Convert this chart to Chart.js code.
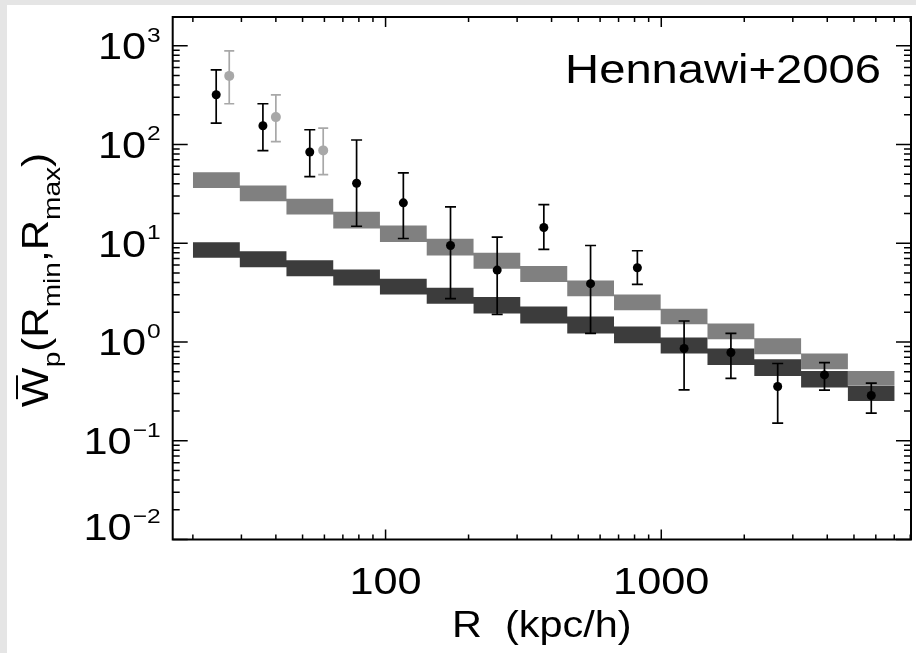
<!DOCTYPE html>
<html>
<head>
<meta charset="utf-8">
<script src="https://cdn.jsdelivr.net/npm/chart.js@4"></script>
<style>
html, body { margin: 0; padding: 0; background: #fff; }
#wrap { width: 916px; height: 653px; position: relative; }
</style>
</head>
<body>
<div id="wrap"><canvas id="chart"></canvas></div>
<script>
// radial bins (kpc/h), 15 bins -> 16 edges
const binEdges = [20, 29.6, 43.7, 64.6, 95.4, 141, 208.5, 308, 456, 674, 995, 1471, 2175, 3215, 4752, 7024]
// light grey model band
const lightHi = [52.2, 38.3, 28.1, 20.8, 15.1, 11.1, 8.0, 5.86, 4.2, 3.03, 2.17, 1.54, 1.09, 0.763, 0.509]
const lightLo = [36.3, 26.6, 19.5, 14.1, 10.3, 7.51, 5.51, 4.04, 2.91, 2.10, 1.51, 1.065, 0.751, 0.53, 0.36]
// dark grey model band
const darkHi = [10.2, 8.3, 6.73, 5.42, 4.37, 3.54, 2.85, 2.28, 1.81, 1.43, 1.11, 0.858, 0.669, 0.509, 0.359]
const darkLo = [7.12, 5.72, 4.64, 3.74, 3.03, 2.44, 1.94, 1.54, 1.22, 0.97, 0.763, 0.586, 0.453, 0.346, 0.253]

// Hennawi+2006 measurements
const rBlack = [24.3, 35.9, 53.1, 78.5, 116, 172, 254, 375, 554, 819, 1210, 1789, 2644, 3908, 5777]
const wBlack = [318, 154.5, 83.8, 40.4, 25.6, 9.48, 5.34, 14.4, 3.89, 5.64, 0.858, 0.782, 0.354, 0.464, 0.287]
const wBlackHi = [568, 258, 140.8, 110.8, 51.4, 23.3, 11.5, 24.6, 9.48, 8.38, 1.63, 1.22, 0.605, 0.619, 0.383]
const wBlackLo = [164.5, 86.4, 47.2, 14.85, 11.16, 2.74, 1.905, 8.64, 1.22, 3.83, 0.327, 0.427, 0.151, 0.325, 0.19]
const rGrey = [27.1, 40.0, 59.4]
const wGrey = [494, 189, 87]
const wGreyHi = [884, 318, 146.5]
const wGreyLo = [258, 106.5, 49.4]

const xTickLabels = [100, 1000]
const yTickExps = [-2, -1, 0, 1, 2, 3]

const FONT = '"Liberation Sans", Arial, Helvetica, sans-serif'
const SX = 1.17 // the original glyphs run a bit wider than Liberation Sans

// stepped band edge: one point per bin edge, last bin value repeated at the end
const step = vals => binEdges.map((x, i) => ({ x: x, y: vals[Math.min(i, vals.length - 1)] }))
const pts = (xs, ys) => xs.map((x, i) => ({ x: x, y: ys[i] }))

function txt(ctx, s, x, y, size, align, sx) {
	sx = sx || SX
	ctx.save()
	ctx.font = size + 'px ' + FONT
	const w = ctx.measureText(s).width * sx
	const x0 = align === 'right' ? x - w : align === 'center' ? x - w / 2 : x
	ctx.translate(x0, y)
	ctx.scale(sx, 1)
	ctx.textAlign = 'left'
	ctx.textBaseline = 'alphabetic'
	ctx.fillStyle = '#000'
	ctx.fillText(s, 0, 0)
	ctx.restore()
	return w
}

function logTicks(min, max) {
	const out = []
	for (let e = Math.floor(Math.log10(min)); e <= Math.ceil(Math.log10(max)); e++) {
		for (let m = 1; m <= 9; m++) {
			const v = m * Math.pow(10, e)
			if (v >= min * 0.999 && v <= max * 1.001) out.push({ v: v, major: m === 1 })
		}
	}
	return out
}

const background = {
	id: 'background',
	beforeDraw(chart) {
		const ctx = chart.ctx
		ctx.save()
		ctx.fillStyle = '#fff'
		ctx.fillRect(0, 0, chart.width, chart.height)
		ctx.fillStyle = '#e5e5e5'
		ctx.fillRect(0, 0, chart.width, 5)
		ctx.fillRect(0, 0, 7, chart.height)
		ctx.restore()
	}
}

const errorBars = {
	id: 'errorBars',
	afterDatasetsDraw(chart) {
		const ctx = chart.ctx
		const xs = chart.scales.x, ys = chart.scales.y
		const draw = (rs, lo, hi, color, cap) => {
			ctx.strokeStyle = color
			ctx.lineWidth = 1.7
			rs.forEach((r, i) => {
				const px = xs.getPixelForValue(r)
				const y1 = ys.getPixelForValue(hi[i]), y2 = ys.getPixelForValue(lo[i])
				ctx.beginPath()
				ctx.moveTo(px, y1); ctx.lineTo(px, y2)
				ctx.moveTo(px - cap, y1); ctx.lineTo(px + cap, y1)
				ctx.moveTo(px - cap, y2); ctx.lineTo(px + cap, y2)
				ctx.stroke()
			})
		}
		ctx.save()
		draw(rGrey, wGreyLo, wGreyHi, '#a8a8a8', 5)
		draw(rBlack, wBlackLo, wBlackHi, '#000', 5.5)
		ctx.restore()
	}
}

const frame = {
	id: 'frame',
	afterDraw(chart) {
		const ctx = chart.ctx
		const a = chart.chartArea
		const xs = chart.scales.x, ys = chart.scales.y
		ctx.save()
		ctx.strokeStyle = '#000'
		ctx.lineWidth = 1.5
		ctx.beginPath()
		logTicks(xs.min, xs.max).forEach(t => {
			const px = xs.getPixelForValue(t.v)
			const len = t.major ? 10 : 5
			ctx.moveTo(px, a.bottom); ctx.lineTo(px, a.bottom - len)
			ctx.moveTo(px, a.top); ctx.lineTo(px, a.top + len)
		})
		logTicks(ys.min, ys.max).forEach(t => {
			const py = ys.getPixelForValue(t.v)
			const len = t.major ? 15 : 7
			ctx.moveTo(a.left, py); ctx.lineTo(a.left + len, py)
			ctx.moveTo(a.right, py); ctx.lineTo(a.right - len, py)
		})
		ctx.stroke()
		ctx.lineWidth = 2
		ctx.strokeRect(a.left, a.top, a.right - a.left, a.bottom - a.top)

		// x tick labels
		xTickLabels.forEach(v => txt(ctx, String(v), xs.getPixelForValue(v), a.bottom + 54, 37, 'center'))
		// y tick labels 10^n
		yTickExps.forEach(e => {
			const yc = Math.min(ys.getPixelForValue(Math.pow(10, e)), a.bottom - 13)
			const es = e < 0 ? '\u2212' + (-e) : String(e)
			const ew = txt(ctx, es, a.left - 12, yc - 4, 21, 'right')
			txt(ctx, '10', a.left - 12 - ew - 1, yc + 13.5, 37, 'right')
		})
		// x axis title
		txt(ctx, 'R  (kpc/h)', (a.left + a.right) / 2, 637, 37, 'center', 1.12)
		// label in the corner
		txt(ctx, 'Hennawi+2006', 881, 83, 41, 'right', 1.15)

		// y axis title with subscripts, rotated
		const main = 36, sub = 24
		const parts = [['W', main, 0], ['p', sub, 12], ['(R', main, 0], ['min', sub, 12],
			[',R', main, 0], ['max', sub, 12], [')', main, 0]]
		let total = 0
		parts.forEach(p => { ctx.font = p[1] + 'px ' + FONT; p.push(ctx.measureText(p[0]).width); total += p[3] })
		ctx.translate(0, 280)
		ctx.rotate(-Math.PI / 2)
		ctx.scale(SX, 1)
		ctx.fillStyle = '#000'
		ctx.textBaseline = 'alphabetic'
		ctx.textAlign = 'left'
		let u = -total / 2
		const wStart = u, wWidth = parts[0][3]
		parts.forEach(p => {
			ctx.font = p[1] + 'px ' + FONT
			ctx.fillText(p[0], u, 48 + p[2])
			u += p[3]
		})
		ctx.fillRect(wStart + wWidth * 0.2, 16, wWidth * 0.6, 2)
		ctx.restore()
	}
}

const ctx = document.getElementById('chart').getContext('2d')

const bandStyle = { borderWidth: 0, pointRadius: 0, stepped: true, tension: 0 }

const myChart = new Chart(ctx, {
	type: 'line',
	data: {
		datasets: [
			{ label: 'Hennawi+2006', data: pts(rBlack, wBlack), showLine: false, pointRadius: 4.5,
				pointBackgroundColor: '#000', pointBorderWidth: 0, order: 0 },
			{ label: 'Hennawi+2006 (alt)', data: pts(rGrey, wGrey), showLine: false, pointRadius: 5,
				pointBackgroundColor: '#a8a8a8', pointBorderWidth: 0, order: 0 },
			Object.assign({ label: 'dark hi', data: step(darkHi), fill: '+1', backgroundColor: '#3c3c3c', order: 1 }, bandStyle),
			Object.assign({ label: 'dark lo', data: step(darkLo), fill: false, order: 1 }, bandStyle),
			Object.assign({ label: 'light hi', data: step(lightHi), fill: '+1', backgroundColor: '#808080', order: 2 }, bandStyle),
			Object.assign({ label: 'light lo', data: step(lightLo), fill: false, order: 2 }, bandStyle)
		]
	},
	options: {
		responsive: true,
		maintainAspectRatio: false,
		animation: false,
		layout: { padding: { left: 0, top: 17, right: 4.3, bottom: 0 } },
		plugins: { legend: { display: false }, tooltip: { enabled: false } },
		scales: {
			x: {
				type: 'logarithmic',
				min: 16.9,
				max: 8050,
				grid: { display: false },
				border: { display: false },
				ticks: { display: false },
				afterFit: s => { s.height = 113.5 }
			},
			y: {
				type: 'logarithmic',
				min: 0.01,
				max: 1950,
				grid: { display: false },
				border: { display: false },
				ticks: { display: false },
				afterFit: s => { s.width = 172.7 }
			}
		}
	},
	plugins: [background, errorBars, frame]
})
</script>
</body>
</html>
